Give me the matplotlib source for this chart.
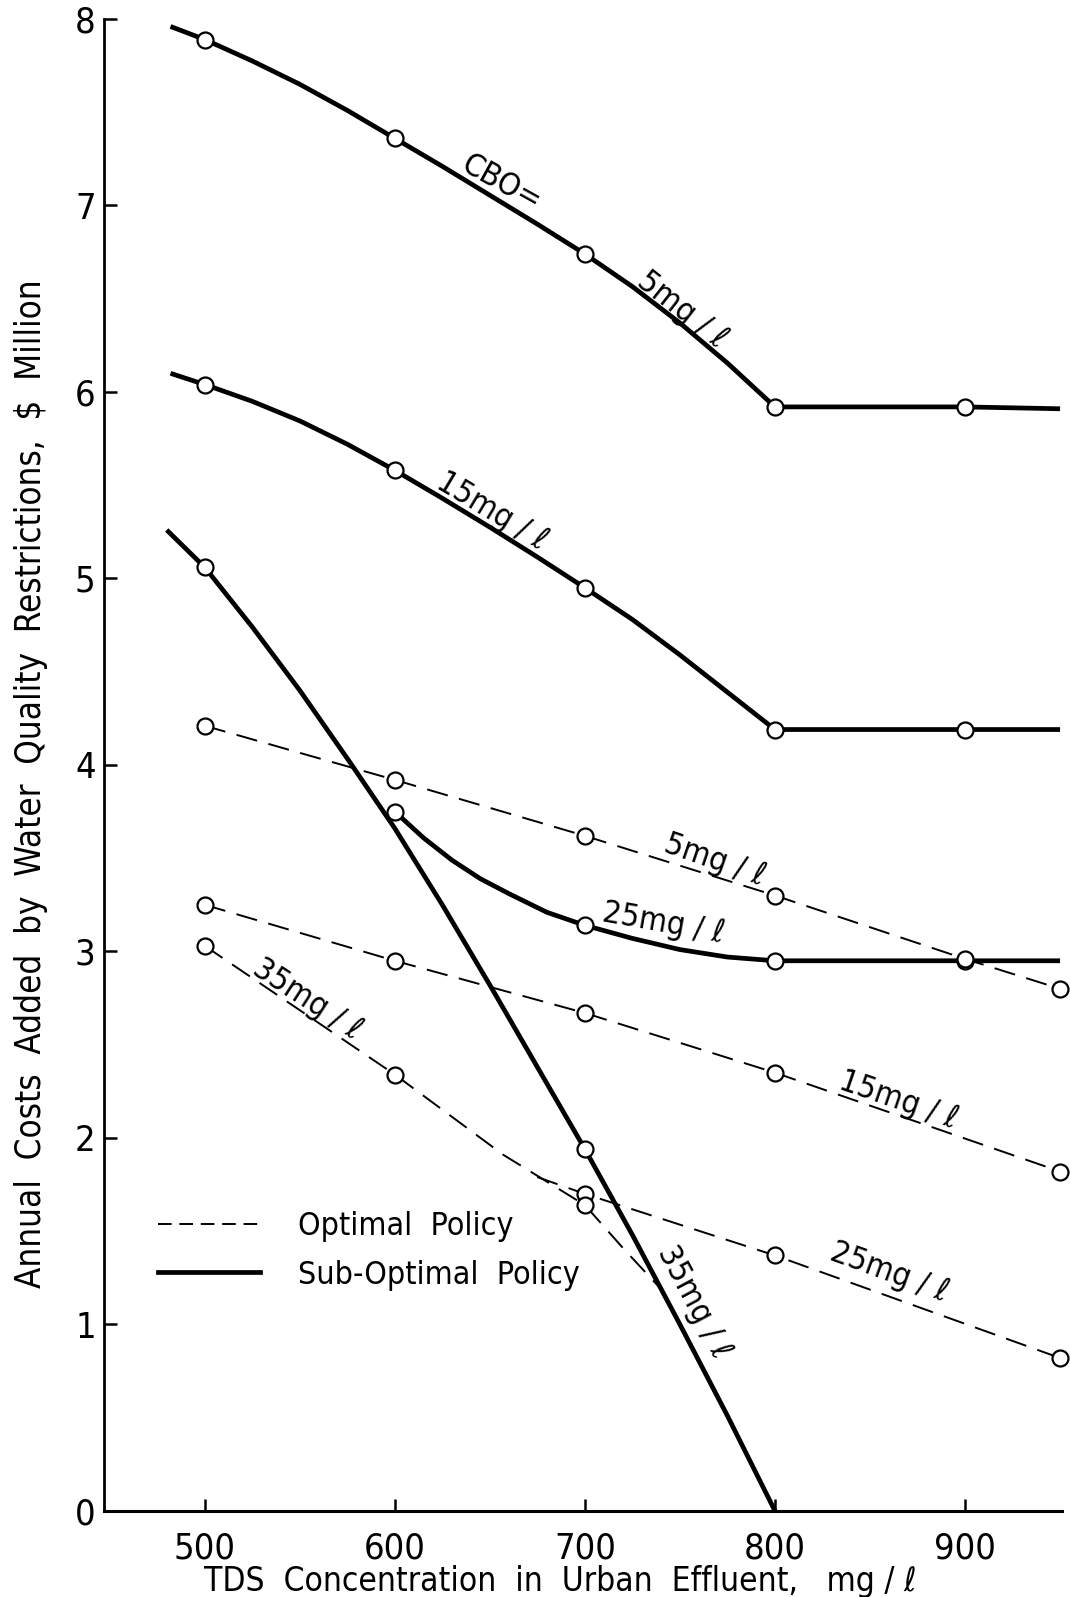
import matplotlib
matplotlib.use("Agg")
import matplotlib.pyplot as plt
from matplotlib import font_manager


# the original lettering is narrow, use a condensed face when one is installed
narrow = None
for f in font_manager.fontManager.ttflist:
    if f.style != "normal" or f.weight not in (400, "normal", "regular", "book"):
        continue
    if "Narrow" in f.name or "Condensed" in f.name or f.stretch in ("condensed", "semi-condensed"):
        narrow = f
        break
if narrow is not None:
    plt.rcParams["font.family"] = [narrow.name, "DejaVu Sans"]
    plt.rcParams["font.stretch"] = narrow.stretch
else:
    plt.rcParams["font.family"] = ["DejaVu Sans"]


# Sub-optimal policy (solid curves)
cbo5_sub_x = [482, 500, 525, 550, 575, 600, 625, 650, 675, 700, 725, 750, 775, 800, 900, 950]
cbo5_sub_y = [7.96, 7.89, 7.775, 7.65, 7.51, 7.36, 7.21, 7.055, 6.90, 6.74, 6.565, 6.37, 6.155, 5.92, 5.92, 5.91]
cbo5_pts_x = [500, 600, 700, 800, 900]
cbo5_pts_y = [7.89, 7.36, 6.74, 5.92, 5.92]

cbo15_sub_x = [482, 500, 525, 550, 575, 600, 625, 650, 675, 700, 725, 750, 775, 800, 900, 950]
cbo15_sub_y = [6.10, 6.04, 5.95, 5.845, 5.72, 5.58, 5.43, 5.275, 5.115, 4.95, 4.78, 4.59, 4.39, 4.19, 4.19, 4.19]
cbo15_pts_x = [500, 600, 700, 800, 900]
cbo15_pts_y = [6.04, 5.58, 4.95, 4.19, 4.19]

cbo25_sub_x = [600, 615, 630, 645, 660, 680, 700, 725, 750, 775, 800, 900, 950]
cbo25_sub_y = [3.75, 3.61, 3.49, 3.39, 3.31, 3.21, 3.14, 3.07, 3.01, 2.97, 2.95, 2.95, 2.95]
cbo25_pts_x = [600, 700, 800, 900]
cbo25_pts_y = [3.75, 3.14, 2.95, 2.95]

cbo35_sub_x = [480, 500, 525, 550, 576, 600, 625, 650, 675, 700, 725, 750, 775, 800]
cbo35_sub_y = [5.26, 5.06, 4.74, 4.40, 4.02, 3.66, 3.25, 2.82, 2.38, 1.94, 1.48, 1.00, 0.51, 0.0]
cbo35_pts_x = [500, 700]
cbo35_pts_y = [5.06, 1.94]

# Optimal policy (dashed lines)
opt5_x = [500, 600, 700, 800, 900, 950]
opt5_y = [4.21, 3.92, 3.62, 3.30, 2.96, 2.80]
opt15_x = [500, 600, 700, 800, 950]
opt15_y = [3.25, 2.95, 2.67, 2.35, 1.82]
opt25_x = [675, 700, 800, 950]
opt25_y = [1.79, 1.70, 1.37, 0.82]
opt25_pts_x = [700, 800, 950]
opt25_pts_y = [1.70, 1.37, 0.82]
opt35_x = [500, 600, 657, 700, 720, 740]
opt35_y = [3.03, 2.34, 1.91, 1.64, 1.41, 1.19]
opt35_pts_x = [500, 600, 700]
opt35_pts_y = [3.03, 2.34, 1.64]

x_ticks = [500, 600, 700, 800, 900]
y_ticks = [0, 1, 2, 3, 4, 5, 6, 7, 8]


fig = plt.figure(figsize=(10.70, 15.97), dpi=100)
ax = fig.add_axes([0.0972, 0.0539, 0.8953, 0.9342])

solid = dict(color="black", lw=3.4, solid_capstyle="butt", solid_joinstyle="round", zorder=3)
dashed = dict(color="black", lw=1.4, linestyle=(0, (11, 6)), zorder=2)
circ = dict(linestyle="none", marker="o", ms=11.5, mfc="white", mec="black",
            mew=1.6, zorder=5, clip_on=False)

ax.plot(cbo5_sub_x, cbo5_sub_y, **solid)
ax.plot(cbo15_sub_x, cbo15_sub_y, **solid)
ax.plot(cbo25_sub_x, cbo25_sub_y, **solid)
ax.plot(cbo35_sub_x, cbo35_sub_y, **solid)

ax.plot(opt5_x, opt5_y, **dashed)
ax.plot(opt15_x, opt15_y, **dashed)
ax.plot(opt25_x, opt25_y, **dashed)
ax.plot(opt35_x, opt35_y, **dashed)

for px, py in [(cbo5_pts_x, cbo5_pts_y), (cbo15_pts_x, cbo15_pts_y),
               (cbo25_pts_x, cbo25_pts_y), (cbo35_pts_x, cbo35_pts_y),
               (opt5_x, opt5_y), (opt15_x, opt15_y),
               (opt25_pts_x, opt25_pts_y), (opt35_pts_x, opt35_pts_y)]:
    ax.plot(px, py, **circ)

# curve labels
lab = dict(fontsize=23, ha="center", va="center", rotation_mode="anchor", zorder=6)
ax.text(656, 7.12, "CBO=", rotation=-29, **lab)
ax.text(751, 6.44, "5mg / ℓ", rotation=-38, **lab)
ax.text(651, 5.36, "15mg / ℓ", rotation=-31, **lab)
ax.text(741, 3.15, "25mg / ℓ", rotation=-10, **lab)
ax.text(757, 1.12, "35mg / ℓ", rotation=-62, **lab)
ax.text(768, 3.49, "5mg / ℓ", rotation=-19, **lab)
ax.text(554, 2.74, "35mg / ℓ", rotation=-33, **lab)
ax.text(865, 2.20, "15mg / ℓ", rotation=-19, **lab)
ax.text(860, 1.28, "25mg / ℓ", rotation=-20, **lab)

# legend
h1, = ax.plot([], [], color="black", lw=1.4, linestyle=(0, (7, 4)))
h2, = ax.plot([], [], color="black", lw=3.4)
ax.legend([h1, h2], ["Optimal  Policy", "Sub-Optimal  Policy"], loc="upper left",
          bbox_to_anchor=(0.056, 0.201), frameon=False, fontsize=23,
          handlelength=3.2, handletextpad=1.2, labelspacing=0.55,
          borderpad=0, borderaxespad=0)

ax.set_xlim(447, 951)
ax.set_ylim(0, 8)
ax.set_xticks(x_ticks)
ax.set_yticks(y_ticks)
ax.tick_params(direction="in", length=9, width=1.8, labelsize=26)
ax.tick_params(axis="x", pad=15)
ax.tick_params(axis="y", pad=6)
ax.spines["top"].set_visible(False)
ax.spines["right"].set_visible(False)
ax.spines["left"].set_linewidth(2)
ax.spines["bottom"].set_linewidth(2.2)

fig.text(31 / 1070, 1 - 784 / 1597,
         "Annual  Costs  Added  by  Water  Quality  Restrictions,  $  Million",
         rotation=90, ha="center", va="center", fontsize=25)
fig.text(560 / 1070, 1 - 1581 / 1597,
         "TDS  Concentration  in  Urban  Effluent,   mg / ℓ",
         ha="center", va="center", fontsize=24)

fig.savefig("out.png", dpi=100)
